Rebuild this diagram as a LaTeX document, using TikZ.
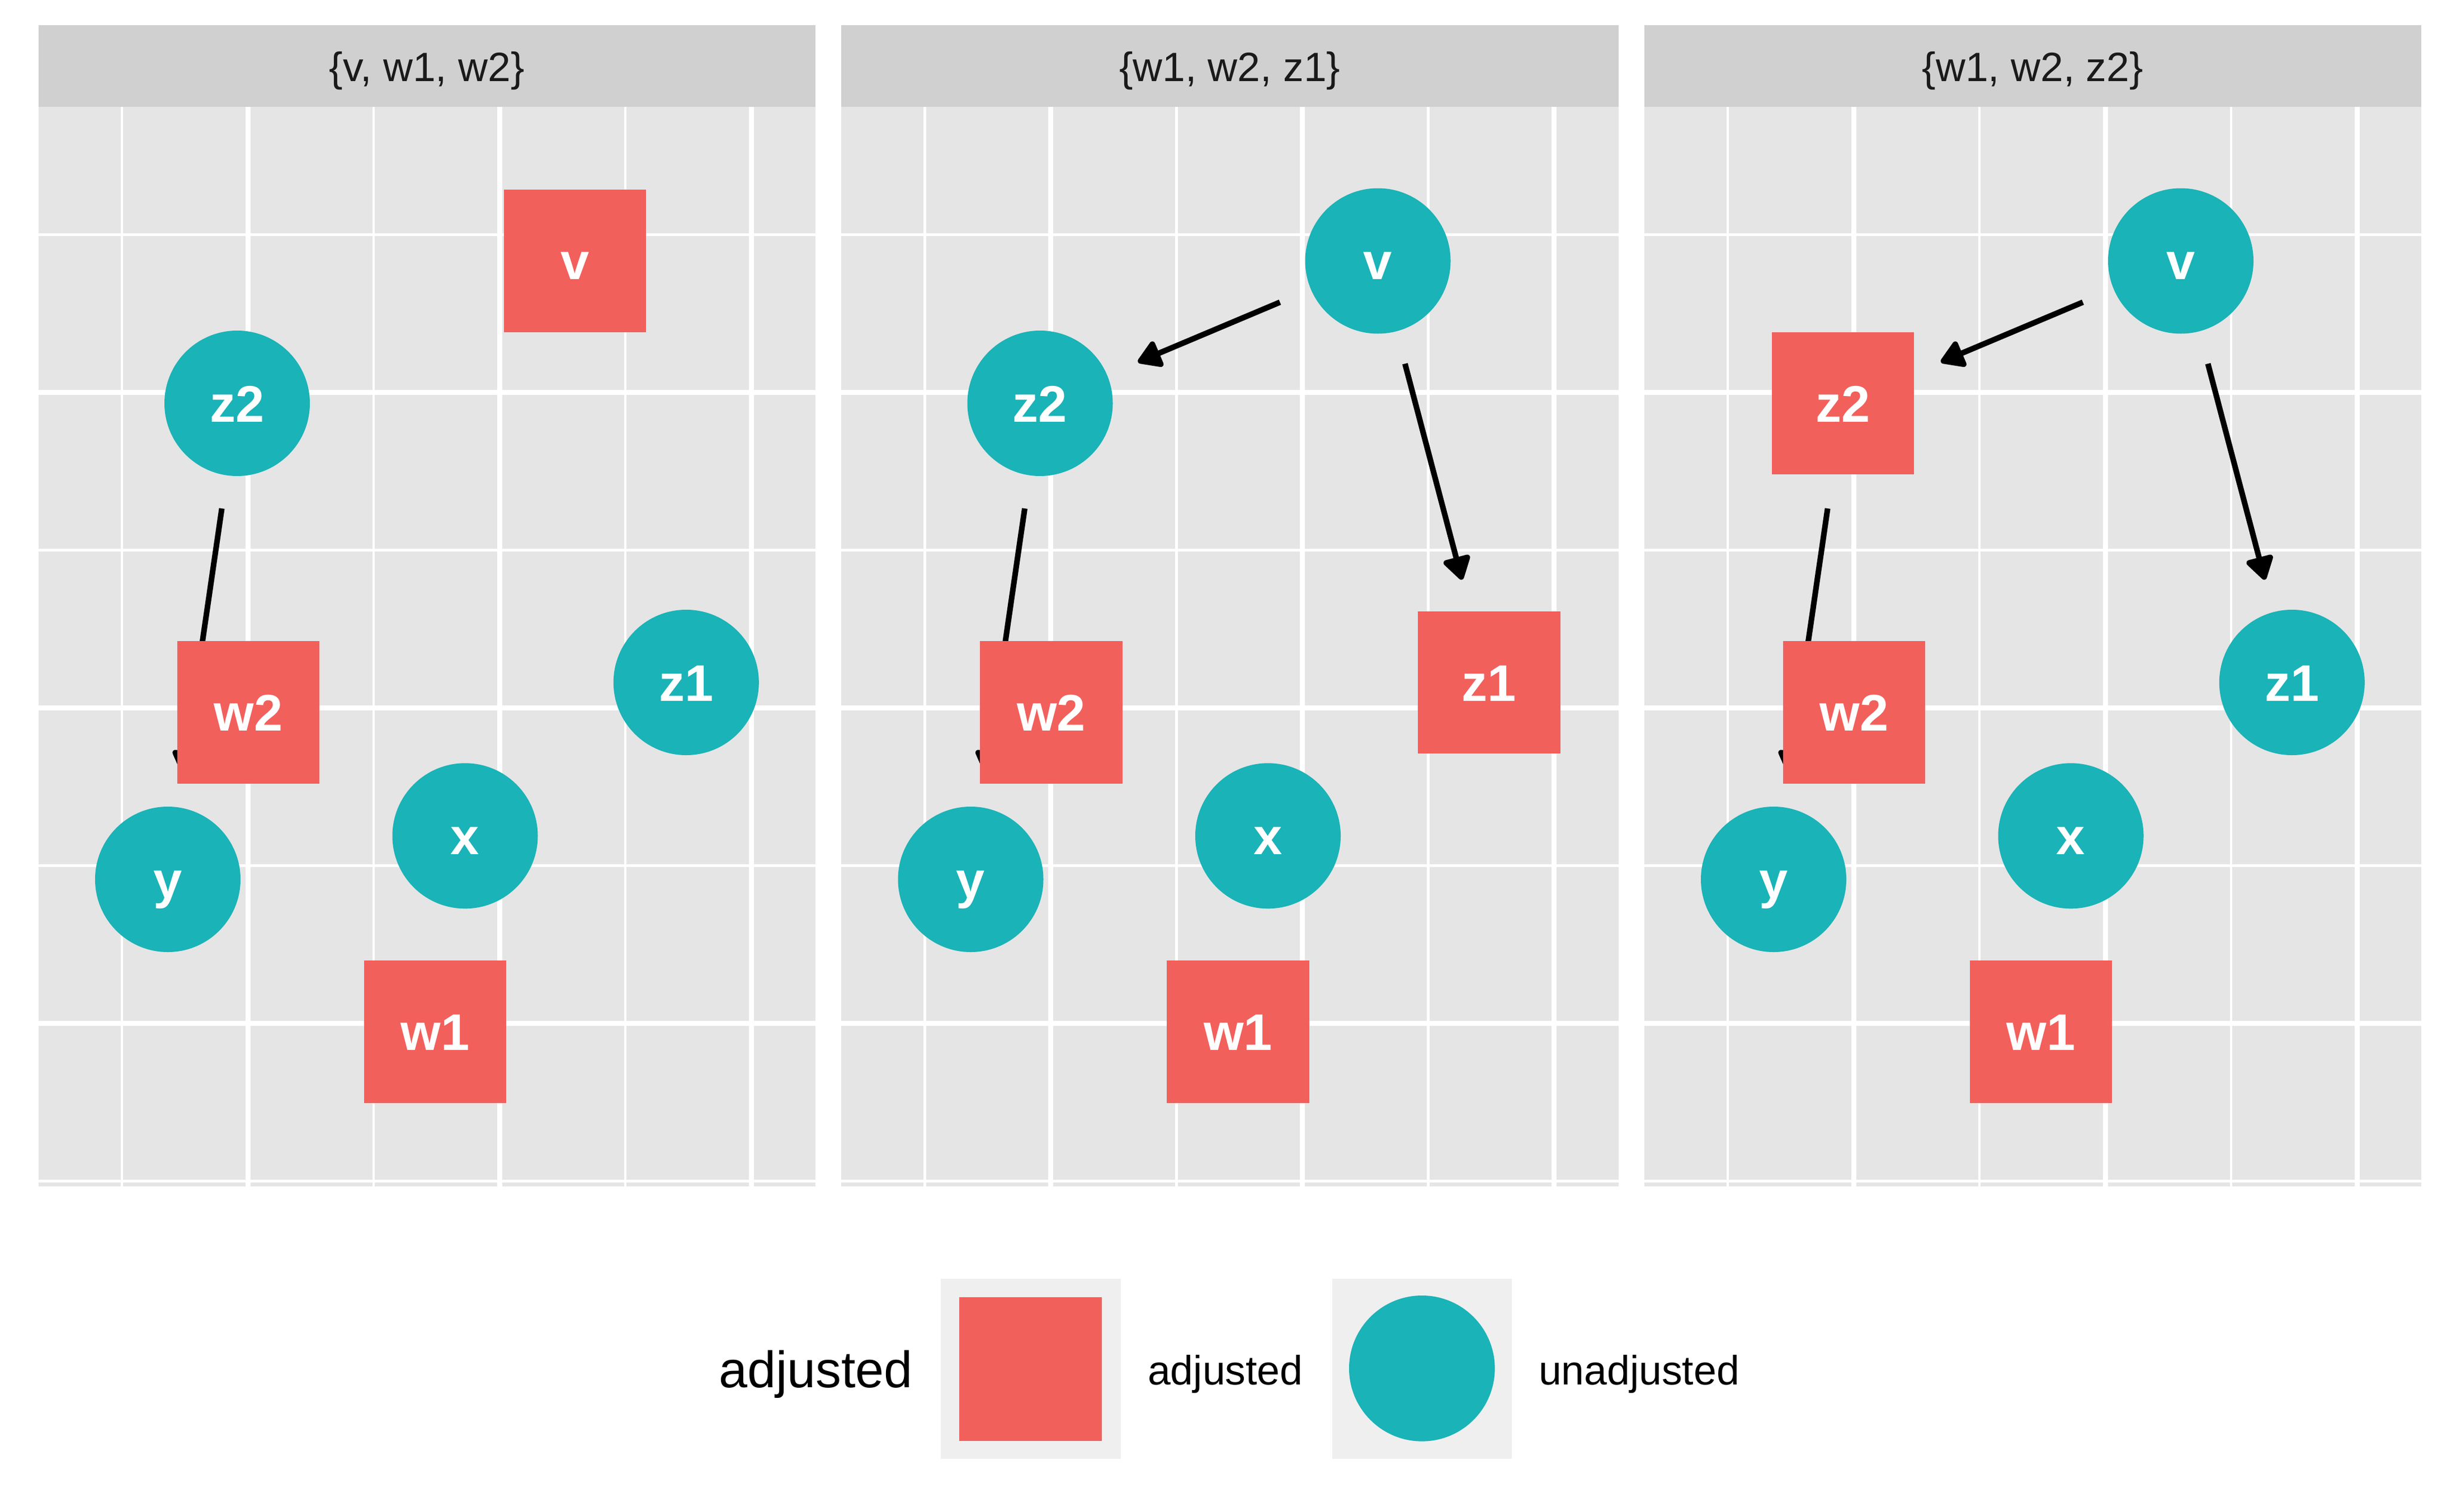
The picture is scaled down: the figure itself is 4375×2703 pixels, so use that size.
\documentclass[tikz,border=0pt]{standalone}
\usepackage{fontspec}
\setmainfont{Liberation Sans}
\usetikzlibrary{arrows.meta}
\definecolor{adjred}{HTML}{F2605C}
\definecolor{unadjteal}{HTML}{1AB3B7}
\definecolor{panelbg}{HTML}{E5E5E5}
\definecolor{stripbg}{HTML}{D0D0D0}
\definecolor{keybg}{HTML}{EFEFEF}
\definecolor{striptext}{HTML}{1A1A1A}
\pgfdeclarelayer{bg}
\pgfdeclarelayer{edges}
\pgfsetlayers{bg,edges,main}
\tikzset{
  nodetext/.style={text=white, font=\fontsize{92}{110}\selectfont\bfseries, text height=66pt, text depth=0pt},
  adjnode/.style={rectangle, fill=adjred, minimum width=254.5pt, minimum height=254.5pt, inner sep=0pt, nodetext},
  unadjnode/.style={circle, fill=unadjteal, minimum size=260pt, inner sep=0pt, nodetext},
  dagedge/.style={line width=10pt, -{Triangle[length=46pt,width=54pt,round]}, shorten <=190pt, shorten >=190pt},
  majorgrid/.style={white, line width=9pt},
  minorgrid/.style={white, line width=4.5pt},
  striplabel/.style={anchor=base, inner sep=0pt, text=striptext, font=\fontsize{73.3}{88}\selectfont},
  legtitle/.style={anchor=base west, inner sep=0pt, text=black, font=\fontsize{91.7}{110}\selectfont},
  leglabel/.style={anchor=base west, inner sep=0pt, text=black, font=\fontsize{73.3}{88}\selectfont},
  keybox/.style={rectangle, fill=keybg, minimum width=321.6pt, minimum height=322.4pt, inner sep=0pt}
}
\begin{document}
\begin{tikzpicture}[x=1pt, y=-1pt]
\useasboundingbox (0,0) rectangle (4375,2703);
\begin{pgfonlayer}{bg}
\fill[white] (0,0) rectangle (4375,2703);
\foreach \ox in {0,1435.5,2871} {
  \fill[stripbg] (68.5+\ox,45) rectangle (1458+\ox,191);
  \fill[panelbg] (68.5+\ox,191) rectangle (1458+\ox,2121);
  \foreach \gx in {218,668,1118} \draw[minorgrid] (\gx+\ox,191) -- (\gx+\ox,2121);
  \foreach \gy in {419.5,983.5,1547.5,2111.5} \draw[minorgrid] (68.5+\ox,\gy) -- (1458+\ox,\gy);
  \foreach \gx in {443,893,1343} \draw[majorgrid] (\gx+\ox,191) -- (\gx+\ox,2121);
  \foreach \gy in {701.5,1265.5,1829.5} \draw[majorgrid] (68.5+\ox,\gy) -- (1458+\ox,\gy);
}
\end{pgfonlayer}
% strip labels
\node[striplabel] (s1) at (763.25,146) {\{v, w1, w2\}};
\node[striplabel] (s2) at (2198.75,146) {\{w1, w2, z1\}};
\node[striplabel] (s3) at (3634.25,146) {\{w1, w2, z2\}};
% panel 1
\node[adjnode]   (av)  at (1028,466.5) {v};
\node[unadjnode] (az2) at (424,721) {z2};
\node[adjnode]   (aw2) at (444,1273.4) {w2};
\node[unadjnode] (az1) at (1226.8,1220) {z1};
\node[unadjnode] (ax)  at (831.5,1494.3) {x};
\node[unadjnode] (ay)  at (300,1572) {y};
\node[adjnode]   (aw1) at (778,1844.4) {w1};
% panel 2
\node[unadjnode] (bv)  at (2463.5,466.5) {v};
\node[unadjnode] (bz2) at (1859.5,721) {z2};
\node[adjnode]   (bw2) at (1879.5,1273.4) {w2};
\node[adjnode]   (bz1) at (2662.3,1220) {z1};
\node[unadjnode] (bx)  at (2267,1494.3) {x};
\node[unadjnode] (by)  at (1735.5,1572) {y};
\node[adjnode]   (bw1) at (2213.5,1844.4) {w1};
% panel 3
\node[unadjnode] (cv)  at (3899,466.5) {v};
\node[adjnode]   (cz2) at (3295,721) {z2};
\node[adjnode]   (cw2) at (3315,1273.4) {w2};
\node[unadjnode] (cz1) at (4097.8,1220) {z1};
\node[unadjnode] (cx)  at (3702.5,1494.3) {x};
\node[unadjnode] (cy)  at (3171,1572) {y};
\node[adjnode]   (cw1) at (3649,1844.4) {w1};
% edges
\begin{pgfonlayer}{edges}
\draw[dagedge] (az2.center) -- (ay.center);
\draw[dagedge] (bv.center) -- (bz2.center);
\draw[dagedge] (bv.center) -- (bz1.center);
\draw[dagedge] (bz2.center) -- (by.center);
\draw[dagedge] (cv.center) -- (cz2.center);
\draw[dagedge] (cv.center) -- (cz1.center);
\draw[dagedge] (cz2.center) -- (cy.center);
\end{pgfonlayer}
% legend
\node[legtitle] (lt) at (1285,2480) {adjusted};
\node[keybox] (k1) at (1842.8,2446.8) {};
\node[rectangle, fill=adjred, minimum width=255pt, minimum height=256.7pt, inner sep=0pt] (k1s) at (1842.8,2447.8) {};
\node[leglabel] (l1) at (2052,2475) {adjusted};
\node[keybox] (k2) at (2542.3,2446.8) {};
\node[circle, fill=unadjteal, minimum size=260.6pt, inner sep=0pt] (k2c) at (2542.3,2446.3) {};
\node[leglabel] (l2) at (2751,2475) {unadjusted};
\end{tikzpicture}
\end{document}
